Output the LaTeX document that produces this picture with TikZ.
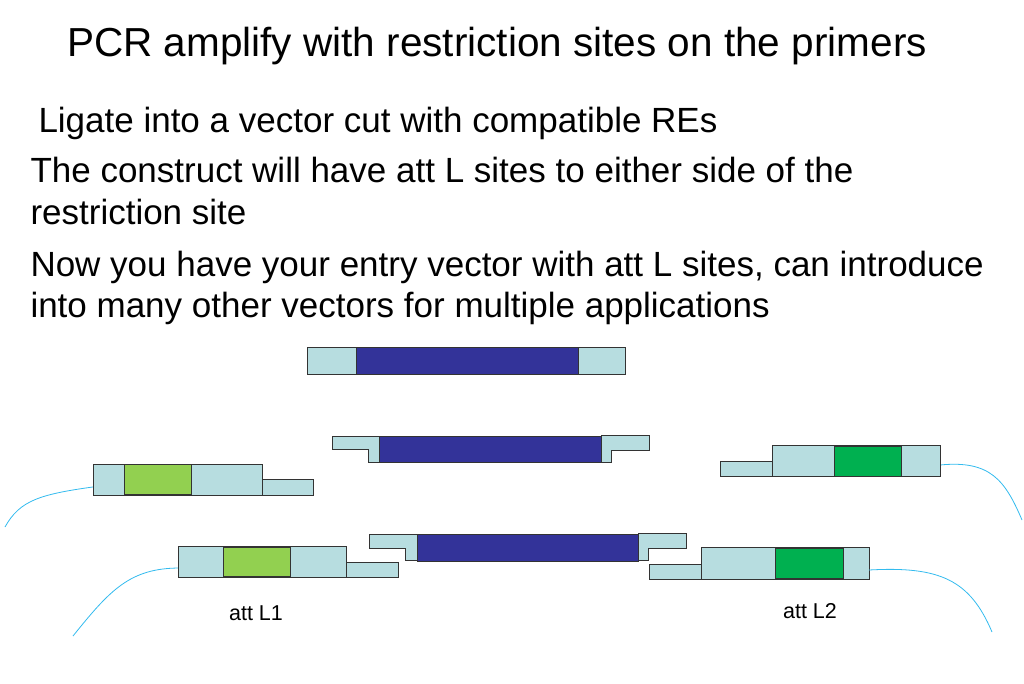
\documentclass[tikz,border=0pt]{standalone}
\usepackage{fontspec}
\setmainfont{Liberation Sans}
\usepackage{xcolor}
\definecolor{endcol}{HTML}{B7DDE0}
\definecolor{insert}{HTML}{333399}
\definecolor{attone}{HTML}{92D050}
\definecolor{atttwo}{HTML}{00B050}
\definecolor{wire}{HTML}{33BBEE}

\begin{document}
\begin{tikzpicture}[
        x=1pt, y=-1pt,
        line width=1pt,
        endbox/.style={fill=endcol, draw=black!80},
        insbox/.style={fill=insert, draw=black!80},
        lgreen/.style={fill=attone, draw=black!80},
        dgreen/.style={fill=atttwo, draw=black!80},
        plasmid/.style={draw=wire, line width=0.8pt},
        bullet/.style={anchor=base west, inner sep=0pt, font=\fontsize{35}{38}\selectfont}
    ]
        \useasboundingbox (0,0) rectangle (1024,683);
        \node (title) [anchor=base, inner sep=0pt, font=\fontsize{40.5}{44}\selectfont] at (497,56) {PCR amplify with restriction sites on the primers};
        \node (ligate) [bullet] at (38,132) {Ligate into a vector cut with compatible REs};
        \node (construct) [bullet] at (30,182) {The construct will have att L sites to either side of the};
        \node (site) [bullet] at (30,224) {restriction site};
        \node (entry) [bullet] at (30,276) {Now you have your entry vector with att L sites, can introduce};
        \node (many) [bullet] at (30,317) {into many other vectors for multiple applications};

        % PCR product
        \draw[endbox] (307,347) rectangle (356,374);
        \draw[insbox] (356,347) rectangle (578,374);
        \draw[endbox] (578,347) rectangle (625,374);

        % cut product
        \draw[endbox] (332,436) -- (379,436) -- (379,462) -- (368,462) -- (368,449) -- (332,449) -- cycle;
        \draw[insbox] (379,436) rectangle (601,462);
        \draw[endbox] (601,435) -- (649,435) -- (649,450) -- (611,450) -- (611,462) -- (601,462) -- cycle;

        % cut vector
        \draw[plasmid] (100,486) .. controls (40,494) and (20,500) .. (5,527);
        \draw[endbox] (93,464) rectangle (262,495);
        \draw[lgreen] (124,464) rectangle (191,494);
        \draw[endbox] (262,479) rectangle (313,495);
        \draw[plasmid] (940,465) .. controls (990,460) and (1005,480) .. (1022,520);
        \draw[endbox] (720,461) rectangle (772,476);
        \draw[endbox] (772,445) rectangle (940,476);
        \draw[dgreen] (834,446) rectangle (901,476);

        % ligated construct
        \draw[plasmid] (180,568) .. controls (130,568) and (110,590) .. (73,636);
        \draw[endbox] (178,546) rectangle (346,577);
        \draw[lgreen] (223,547) rectangle (290,576);
        \draw[endbox] (346,562) rectangle (398,577);
        \draw[endbox] (369,534) -- (417,534) -- (417,560) -- (405,560) -- (405,548) -- (369,548) -- cycle;
        \draw[insbox] (417,534) rectangle (638,561);
        \draw[endbox] (638,533) -- (686,533) -- (686,548) -- (648,548) -- (648,560) -- (638,560) -- cycle;
        \draw[endbox] (649,564) rectangle (701,579);
        \draw[endbox] (701,547) rectangle (869,579);
        \draw[dgreen] (775,548) rectangle (843,578);
        \draw[plasmid] (869,570) .. controls (940,566) and (970,580) .. (992,632);

        \node (attL1) [font=\fontsize{21.5}{24}\selectfont] at (256,613) {att L1};
        \node (attL2) [font=\fontsize{21.5}{24}\selectfont] at (810,611) {att L2};
    \end{tikzpicture}
\end{document}
